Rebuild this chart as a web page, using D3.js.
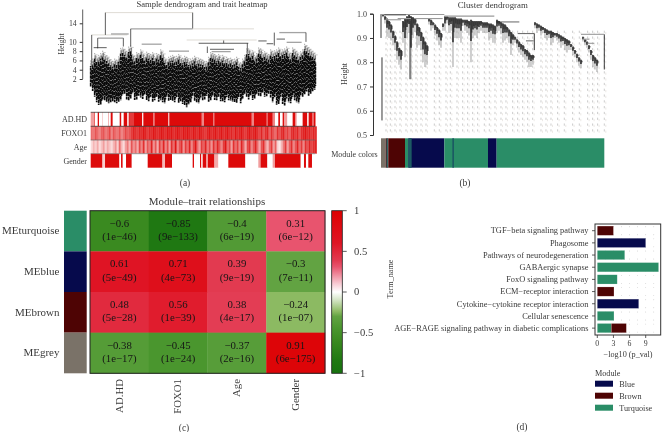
<!DOCTYPE html>
<html><head><meta charset="utf-8"><script src="https://cdn.jsdelivr.net/npm/d3@7/dist/d3.min.js"></script>
<style>html,body{margin:0;background:#fff}svg{display:block;filter:blur(.3px)}text{font-family:"Liberation Serif",serif;fill:#3a3a3a}text.cell{fill:#161616}</style></head><body><svg id="c" width="662" height="432"></svg>
<script>
// ---- (a) sample dendrogram: leaf ranks step by 6
const sampleTop=[5.6,6,7.2,6.5,6.8,7.2,7.7,7,6.7,6.2,5.8,5.5,6,5.8,6.5,8.3,8.4,8,7.6,8.6,8.8,7,6.6,7.4,7.2,8,7.4,6.8,7.5,7.2,7,7.4,6.6,7.2,7,8,7.4,6.3,5.8,6.4,6.6,6.8,6.4,6.6,7,6.4,6.2,6.6,6.4,5.8,6,6.2,6.6,6,6.2,6,5.8,5.4,5.5,6.4,7.4,7.2,7,6.6,7,6.4,6.8,6.2,6.4,6,6.2,5.8,6,6.4,5.4,5.2,6,6.8,8.2,8.2,7.6,7.8,6.8,7.2,8.4,8.2,7.4,7.6,7.2,7,8,7.6,7.8,8,8.4,7.8,8,8.2,8.6,7.6,7.2,8.4,8,7.6,7,7.6,8,9.2,8.8,8.4,8,7.6,7.2];
const sampleBottom=[.4,-.6,-1.8,-3,-3.6,-3.6,-2.4,-2.6,-3,-3.2,-3,-2.8,-3,-3.2,-2.9,-2.6,-1.4,-1.2,-2.4,-2.6,-2.2,-1,-2.5,-2.4,-1.6,-2,-2.3,-1.4,-2.6,-2.8,-1.8,-2.9,-2.6,-1.9,-2.9,-2.6,-3,-3.2,-1.8,-2.7,-2.5,-2.8,-3,-1.9,-3.1,-2.8,-3.4,-3.6,-4.1,-3.5,-3,-1.6,-2.7,-3,-3.2,-2,-2.6,-2.4,-1.6,-2.9,-2.7,-1.6,-2.5,-2.6,-1.8,-2.8,-2.9,-3,-1.9,-2.6,-2.7,-2.9,-3,-3.1,-2,-3.2,-2.2,-1.2,-1.8,-2.4,-1.5,-2.5,-2.3,-1.2,-1.6,-1.7,-.9,-1.8,-1.7,-1.2,-2,-3,-1.9,-3.6,-3.4,-1.8,-3.4,-3.7,-2.2,-3,-3.2,-1.8,-2.6,-3,-3.2,-1.6,-1.8,-1.4,-.7,-1.6,-1.2,-.7,-.3];
const sampleBlackMerges=[[44,44,16.3,11.5],[306,306,16.3,12.9],[3,3,11.5,5.5],[120,120,12.8,9],[21,21,10.8,8.6],[9,48,8.75,8.75],[324,473,9.7,9.7],[399,399,10.3,9.7],[551,551,12,9.2],[503,528,10.2,10.2],[528,548,9.6,9.6],[558,583,10.6,10.6],[358,430,8.4,8.4],[646,646,12,10],[350,350,9,7.6],[470,470,9.7,8],[98,98,10.8,9]];
const sampleGrayMerges=[[120,306,12.8,12.8],[61,114,11.7,11.7],[21,98,10.8,10.8],[153,213,9.5,9.5],[235,295,8,8],[566,646,12,12],[588,633,9.9,9.9],[363,420,7.9,7.9]];
const sampleLightMerges=[[44,306,16.3,16.3],[306,490,12.8,12.8],[3,110,11.5,11.5],[288,498,10.4,10.4]];
const traits=["AD.HD","FOXO1","Age","Gender"];
const adhdRuns=[[10,.4],[12,1],[21,0],[25,1],[34,0],[36,.3],[52,0],[54,.5],[60,0],[66,1],[87,0],[92,1],[99,0],[110,1],[114,0],[117,1],[130,.8],[154,1],[158,.1],[187,1],[192,.55],[232,1],[236,.3],[333,1],[340,.5],[368,1],[371,.55],[483,1],[490,.5],[528,1],[531,.5],[546,1],[553,.5],[563,0],[568,1],[576,0],[580,1],[590,.4],[606,0],[613,1],[618,.5],[636,0],[650,1],[654,0],[664,1],[670,.6],[674,1]];
const genderRuns=[[35,1],[43,.2],[86,1],[91,0],[96,1],[106,0],[123,1],[171,0],[215,1],[223,.3],[244,1],[306,0],[310,1],[328,0],[332,1],[336,0],[346,1],[352,.4],[371,1],[383,.35],[413,0],[464,1],[503,0],[510,.4],[530,1],[546,0],[553,.4],[630,1],[640,0],[646,1],[653,0],[664,1],[674,0]];
const foxoVals=[.6,.55,.7,.6,.5,.65,.7,.55,.6,.75,.5,.7,.6,.55,.7,.5,.6,.75,.65,.7,.8,.9,.85,.8,.9,.85,.95,.9,.8,.9,.85,.95,.9,.85,.9,.95,.9,.85,.95,.9,.95,.85,.9,.95,.9,.85,.95,.9,.95,.9,.85,.95,.9,.85,.95,.9,.85,.8,.9,.95,.85,.9,.95,.85,.9,.95,.85,.9,.95,.85,.9,.8,.95,.85,.9,.95,.85,.8,.9,.95,.85,.9,.95,.85,.75,.9,.7,.85,.9,.65,.85,.7,.6,.85,.7,.85,.9,.7,.8,.65,.85,.9,.8,.9,.7,.85,.9,.95,.85,.9,.8,.9,.85];
const ageVals=[.15,.3,.2,.35,.15,.25,.4,.2,.35,.25,.15,.3,.45,.2,.6,.3,.15,.4,.55,.3,.7,.45,.6,.35,.75,.5,.85,.4,.7,.55,.9,.45,.7,.35,.8,.55,.9,.5,.75,.4,.85,.6,.95,.5,.7,.85,.45,.8,.6,.9,.5,.75,.95,.6,.4,.8,.65,.9,.55,.75,.45,.85,.6,.9,.7,.5,.8,.95,.6,.75,.4,.85,.6,.8,.5,.9,.65,.35,.75,.85,.5,.7,.9,.6,.35,.7,.85,.5,.3,.6,.8,.4,.65,.2,.1,.3,.55,.8,.4,.65,.85,.5,.7,.9,.6,.8,.5,.85,.7,.9,.75,.85,.9];
// ---- (b) gene dendrogram: leaf ranks step by 6, starting at rank 6
const geneTop=[.995,.99,.98,.97,.955,.93,.91,.885,.86,.85,.97,.98,.99,.995,.99,.985,.98,.96,.945,.925,.905,.885,.87,.98,.975,.965,.955,.945,.935,.92,.96,.99,.99,.985,.985,.985,.985,.98,.98,.98,.975,.975,.975,.97,.975,.97,.97,.97,.97,.97,.965,.965,.965,.96,.96,.955,.95,.975,.97,.965,.96,.955,.945,.935,.925,.915,.905,.895,.885,.875,.87,.855,.85,.84,.83,.83,.965,.96,.955,.95,.945,.94,.935,.93,.93,.925,.92,.92,.915,.91,.905,.9,.895,.89,.875,.865,.85,.835,.82,.81,.905,.895,.885,.87,.85,.83,.82,.81];
const geneBottom=[.985,.96,.905,.9,.89,.87,.85,.81,.79,.77,.88,.82,.9,.92,.73,.9,.925,.86,.87,.85,.8,.78,.79,.955,.93,.94,.91,.89,.87,.86,.93,.93,.96,.92,.93,.78,.9,.9,.9,.88,.95,.93,.92,.91,.8,.9,.91,.9,.92,.93,.92,.92,.92,.89,.9,.88,.88,.92,.93,.915,.88,.89,.9,.88,.83,.87,.88,.86,.84,.83,.82,.81,.8,.78,.78,.79,.94,.92,.93,.91,.92,.9,.89,.9,.87,.88,.9,.89,.88,.86,.87,.85,.84,.85,.85,.83,.82,.8,.785,.775,.885,.87,.86,.84,.81,.78,.77,.76];
const geneDashRanks=[15,28,42,57,75,90,105,120,135,160,175,195,208,228,245,260,275,290,310,325,342,360,375,395,410,425,440,455,480,495,510,530,550,575,595,620,635,650,670];
const geneBlackMerges=[[10,75,.995,.995],[345,415,.966,.966],[410,460,.918,.918],[435,458,.888,.888]];
const geneGrayMerges=[[0,190,.997,.997],[50,90,.98,.98],[100,185,.98,.98],[15,60,.975,.975],[600,670,.915,.915],[605,625,.895,.895],[620,640,.878,.878],[190,340,.99,.99]];
const geneStems=[[0,.998,.9,.9],[3,.82,.56,.56],[670,.915,.77,.77],[460,.918,.85,.85],[87,.97,.73,.73]];
const moduleRuns=[[0,14,"grey"],[14,22,"brown"],[22,72,"brown"],[72,82,"turquoise"],[82,190,"blue"],[190,321,"turquoise"],[321,347,"blue"],[347,670,"turquoise"]];
const moduleStripes=[[17,20,"teal"],[82,92,"teal2"],[214,219,"teal2"]];
// ---- (c) module-trait heatmap
const modules=["MEturquoise","MEblue","MEbrown","MEgrey"];
const moduleSwatch=["turquoise","blue","brown","grey"];
const corr=[[-.6,-.85,-.4,.31],[.61,.71,.39,-.3],[.48,.56,.38,-.24],[-.38,-.45,-.37,.91]];
const pvals=[["1e−46","9e−133","6e−19","6e−12"],["5e−49","4e−73","9e−19","7e−11"],["5e−28","1e−39","4e−17","1e−07"],["1e−17","1e−24","2e−16","6e−175"]];
const cbTicks=[1,.5,0,-.5,-1];
// ---- (d) enrichment bars
const terms=["TGF−beta signaling pathway","Phagosome","Pathways of neurodegeneration","GABAergic synapse","FoxO signaling pathway","ECM−receptor interaction","Cytokine−cytokine receptor interaction","Cellular senescence","AGE−RAGE signaling pathway in diabetic complications"];
const turquoiseVals=[0,0,5.1,11.4,3.7,0,0,3.1,2.6];
const brownVals=[3,0,0,0,0,3.1,0,0,2.8];
const blueVals=[0,9,0,0,0,0,7.7,0,0];
const legendNames=["Blue","Brown","Turquoise"];

const col={turquoise:"#2a8d67",blue:"#060a4c",brown:"#4e0404",grey:"#7a7268",teal:"#2a9c9c",teal2:"#1c5a63"};
const svg=d3.select("#c");
const txt=(x,y,s,size,anchor="middle",g=svg)=>g.append("text").attr("x",x).attr("y",y).attr("font-size",size).attr("text-anchor",anchor).text(s);
const vtxt=(x,y,s,size,anchor="middle")=>svg.append("text").attr("transform",`translate(${x},${y}) rotate(-90)`).attr("font-size",size).attr("text-anchor",anchor).text(s);
const seg=(g,x1,y1,x2,y2,c,w)=>g.append("line").attr("x1",x1).attr("y1",y1).attr("x2",x2).attr("y2",y2).attr("stroke",c).attr("stroke-width",w);

// (a)
const ax=d3.scaleLinear().domain([0,674]).range([90.7,315.3]);
const ay=d3.scaleLinear().domain([2,14]).range([79,23.3]);
const ga=svg.append("g");
txt(202,7.4,"Sample dendrogram and trait heatmap",8.6);
const yAxA=svg.append("g").attr("transform","translate(82.7,0)").call(d3.axisLeft(ay).tickValues([2,4,6,8,10,14]).tickSize(3).tickPadding(3));
yAxA.select(".domain").remove();
seg(svg,82.7,9.5,82.7,79,"#333",.8);
yAxA.selectAll("line").attr("stroke","#333");
yAxA.selectAll("text").attr("font-size",7.8).attr("font-family",'"Liberation Serif"');
vtxt(63.5,44,"Height",7.8);
sampleTop.forEach((t,i)=>{const x=ax(i*6),b=sampleBottom[i];
  seg(ga,x,ay(t-1.6),x,ay(t+.4),"#8f8f8f",.8).attr("stroke-dasharray","3 1");
  seg(ga,x+.9,ay(t-.9),x+.9,ay(t-.1),"#333",.6);
  seg(ga,x,ay(b),x,ay(t-.8),"#0b0b0b",1.7).attr("stroke-dasharray",`${3.4+(i%3)*.8} .5`).attr("stroke-dashoffset",i*2);
  seg(ga,x+1,ay(b+.8),x+1,ay(t-1.6),"#0b0b0b",1.2).attr("stroke-dasharray","3 .6").attr("stroke-dashoffset",i*5);
  seg(ga,x,ay(t),x+3,ay(t),"#777",.4);
});
const mergeA=(list,c,w)=>list.forEach(([a,b,h1,h2])=>seg(ga,ax(a),ay(h1),ax(b),ay(h2),c,w));
mergeA(sampleLightMerges,"#dfdcd5",1);mergeA(sampleGrayMerges,"#a3a3a3",1.3);mergeA(sampleBlackMerges,"#1a1a1a",.7);
const rowY=[112.3,126.3,140,153.7,167.7];
const hm=d3.scaleLinear().domain([0,1]).range(["#fff","#dd0a0a"]);
const drawRuns=(runs,r)=>{let s=0;runs.forEach(([e,v])=>{svg.append("rect").attr("x",ax(s)).attr("width",ax(e)-ax(s)+.2).attr("y",rowY[r]).attr("height",rowY[r+1]-rowY[r]).attr("fill",hm(v));s=e;});};
const drawVals=(vals,r)=>vals.forEach((v,i)=>svg.append("rect").attr("x",ax(i*6)).attr("width",ax(6)-ax(0)+.2).attr("y",rowY[r]).attr("height",rowY[r+1]-rowY[r]).attr("fill",hm(v)));
drawRuns(adhdRuns,0);drawVals(foxoVals,1);drawVals(ageVals,2);drawRuns(genderRuns,3);
[[0,"#222"],[1,"#222"],[2,"#666"],[3,"#777"]].forEach(([r,c])=>seg(svg,90.7,rowY[r],315.3,rowY[r],c,.7));
traits.forEach((t,i)=>txt(87,(rowY[i]+rowY[i+1])/2+2.8,t,8,"end"));
txt(185,185.5,"(a)",9.5);

// (b)
const bx=d3.scaleLinear().domain([0,670]).range([381,604.3]);
const by=d3.scaleLinear().domain([.5,1]).range([135,13.7]);
const gb=svg.append("g");
txt(492.7,7.5,"Cluster dendrogram",8.8);
const yAxB=svg.append("g").attr("transform","translate(373,0)").call(d3.axisLeft(by).tickValues([.5,.6,.7,.8,.9,1]).tickFormat(d3.format(".1f")).tickSize(3).tickPadding(3));
yAxB.selectAll("line,path").attr("stroke","#333");
yAxB.selectAll("text").attr("font-size",8).attr("font-family",'"Liberation Serif"');
vtxt(346.5,74,"Height",8);
geneDashRanks.forEach((r,i)=>{[0,4.5].forEach(d=>seg(gb,bx(r)+(d?1.5:0),by(.93),bx(r)+(d?1.5:0),by(.5),d?"#ddd8d3":"#a8a8a8",.6).attr("stroke-dasharray","2.2 3.6").attr("stroke-dashoffset",d));});
geneTop.forEach((t,i)=>{const x=bx(6+i*6),b=geneBottom[i];
  seg(gb,x,by(b),x,by(t),"#a8a8a8",1.1);
  seg(gb,x,by(t-(t-b)*.5),x,by(t),"#0c0c0c",1.3);
  seg(gb,x+1,by(t-(t-b)*.3),x+1,by(t-.004),"#1a1a1a",.9);
});
geneStems.forEach(([r,h1,h2])=>seg(gb,bx(r),by(h1),bx(r),by(h2),"#222",.9));
geneGrayMerges.forEach(([a,b,h])=>seg(gb,bx(a),by(h),bx(b),by(h),"#9a9a9a",1.1));
geneBlackMerges.forEach(([a,b,h])=>seg(gb,bx(a),by(h),bx(b),by(h),"#222",.7));
moduleRuns.concat(moduleStripes).forEach(([a,b,m])=>svg.append("rect").attr("x",bx(a)).attr("width",bx(b)-bx(a)).attr("y",138.3).attr("height",29.4).attr("fill",col[m]));
txt(377.7,156.5,"Module colors",8,"end");
txt(465,185.5,"(b)",9.5);

// (c)
const cx=d3.scaleBand().domain(traits).range([90,325]);
const cy=d3.scaleBand().domain(modules).range([210.7,373.3]);
const ccDomain=[-1,-.85,-.6,-.45,-.3,-.24,-.1,0,.1,.31,.39,.6,1];
const cc=d3.scaleLinear().domain(ccDomain).range(["#187210","#1f7812","#3a8a20","#4a962e","#62a342","#8cba62","#d3e4c4","#ffffff","#f8ccd4","#e8546e","#e23a50","#df1525","#dd0000"]);
txt(207,205,"Module–trait relationships",11);
modules.forEach((m,i)=>{
  svg.append("rect").attr("x",64).attr("width",22.7).attr("y",cy(m)).attr("height",cy.bandwidth()).attr("fill",col[moduleSwatch[i]]);
  txt(59.5,cy(m)+cy.bandwidth()/2+3.2,m,11,"end");
  traits.forEach((t,j)=>{
    svg.append("rect").attr("x",cx(t)).attr("y",cy(m)).attr("width",cx.bandwidth()+.3).attr("height",cy.bandwidth()+.3).attr("fill",cc(corr[i][j]));
    txt(cx(t)+cx.bandwidth()/2,cy(m)+cy.bandwidth()/2-4.4,String(corr[i][j]).replace("-","−"),10.8).attr("class","cell");
    txt(cx(t)+cx.bandwidth()/2,cy(m)+cy.bandwidth()/2+9,`(${pvals[i][j]})`,10.8).attr("class","cell");
  });
});
svg.append("rect").attr("x",90).attr("y",210.7).attr("width",235).attr("height",162.6).attr("fill","none").attr("stroke","#222").attr("stroke-width",1);
traits.forEach(t=>vtxt(cx(t)+cx.bandwidth()/2+3.2,379,t,10.8,"end"));
txt(184,431,"(c)",9.5);
const cby=d3.scaleLinear().domain([-1,1]).range([373.3,210.7]);
const grad=svg.append("defs").append("linearGradient").attr("id","cbar").attr("x1",0).attr("y1",1).attr("x2",0).attr("y2",0);
ccDomain.forEach(v=>grad.append("stop").attr("offset",(v+1)/2).attr("stop-color",cc(v)));
svg.append("rect").attr("x",331.7).attr("y",210.7).attr("width",10.6).attr("height",162.6).attr("fill","url(#cbar)").attr("stroke","#222").attr("stroke-width",.8);
cbTicks.forEach(t=>{seg(svg,342.3,cby(t),346.7,cby(t),"#333",.8);txt(354,cby(t)+3.2,String(t).replace("-","−"),10.6,"start");});

// (d)
const dx=d3.scaleLinear().domain([0,9]).range([597.3,645.7]);
const dy=d3.scaleBand().domain(terms).range([224.6,334.2]).paddingInner(.24).paddingOuter(.12);
const gd=svg.append("g");
terms.forEach(t=>{const c=dy(t)+dy.bandwidth()/2;
  [1.5,3,4.5,6,7.5,9,10.5].forEach(v=>[-4,4].forEach(o=>gd.append("circle").attr("cx",dx(v)).attr("cy",c+o).attr("r",.45).attr("fill","#b5b5b5")));
  seg(svg,592,c,595,c,"#333",.8);
  txt(588.5,c+2.8,t,8.4,"end");
});
const series=[["turquoise",turquoiseVals],["brown",brownVals],["blue",blueVals]];
const stacked=d3.stack().keys([0,1,2]).value((d,k)=>series[k][1][d])(terms.map((_,i)=>i));
stacked.forEach((layer,k)=>layer.forEach((d,i)=>{ if(d[1]>d[0]) gd.append("rect").attr("x",dx(d[0])).attr("width",dx(d[1])-dx(d[0])).attr("y",dy(terms[i])).attr("height",dy.bandwidth()).attr("fill",col[series[k][0]]).attr("stroke","#fff").attr("stroke-opacity",.35).attr("stroke-width",.5);}));
svg.append("rect").attr("x",595).attr("y",224).attr("width",65.7).attr("height",111).attr("fill","none").attr("stroke","#333").attr("stroke-width",1);
[0,3,6,9].forEach(v=>{seg(svg,dx(v),335,dx(v),338,"#333",.8);txt(dx(v),345.5,v,7.8);});
txt(628,357,"−log10 (p_val)",8.2);
vtxt(393,279,"Term_name",8.2);
txt(595,376,"Module",8.2,"start");
legendNames.forEach((n,i)=>{const y=383.7+i*12;
  svg.append("rect").attr("x",595).attr("y",y-3).attr("width",18).attr("height",6).attr("fill",col[n.toLowerCase()]);
  txt(619.3,y+2.8,n,8.2,"start");
});
txt(522,430,"(d)",9.5);
</script></body></html>
